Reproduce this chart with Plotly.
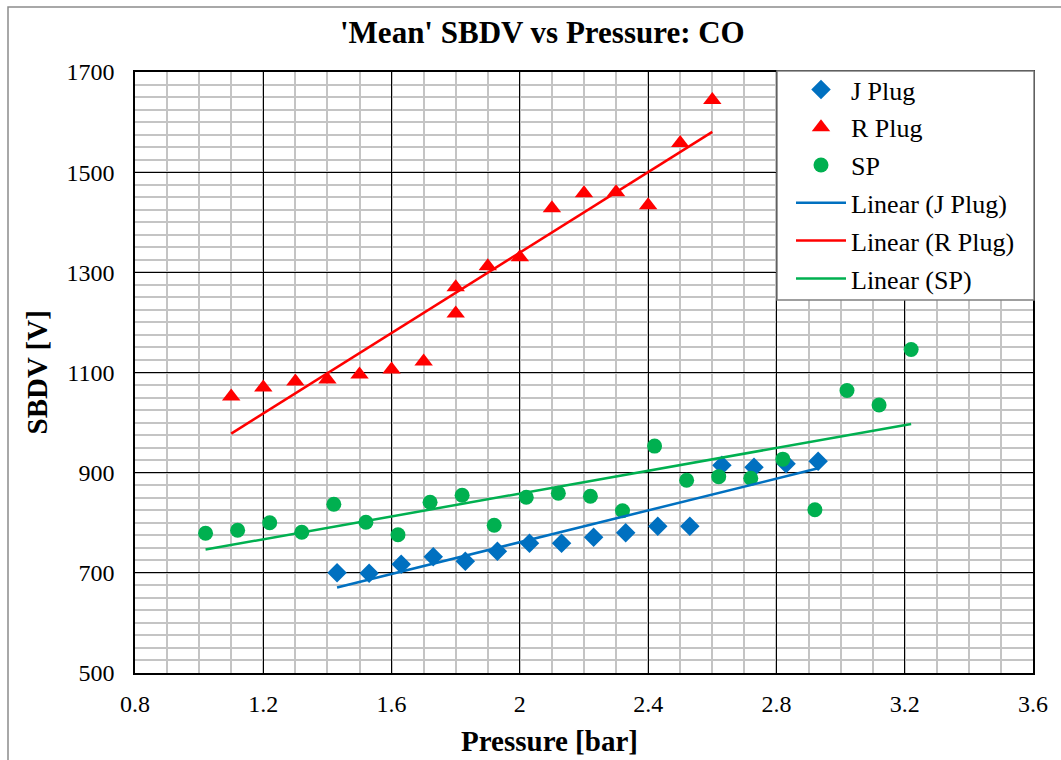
import numpy as np
import plotly.graph_objects as go

# Mean spark breakdown voltage vs pressure for three plug types (CO)
j_pressure = [1.43, 1.53, 1.63, 1.73, 1.83, 1.93, 2.03, 2.13, 2.23, 2.33, 2.43, 2.53, 2.63, 2.73, 2.83, 2.93]
j_sbdv = [700, 699, 717, 732, 723, 743, 759, 759, 771, 780, 793, 793, 915, 911, 918, 923]

r_pressure = [1.1, 1.2, 1.3, 1.4, 1.5, 1.6, 1.7, 1.8, 1.8, 1.9, 2.0, 2.1, 2.2, 2.3, 2.4, 2.5, 2.6]
r_sbdv = [1052, 1070, 1082, 1086, 1096, 1106, 1122, 1270, 1218, 1312, 1330, 1428, 1458, 1460, 1434, 1558, 1644]

sp_pressure = [1.02, 1.12, 1.22, 1.32, 1.42, 1.52, 1.62, 1.72, 1.82, 1.92, 2.02, 2.12, 2.22,
               2.32, 2.42, 2.52, 2.62, 2.72, 2.82, 2.92, 3.02, 3.12, 3.22]
sp_sbdv = [779, 785, 800, 781, 837, 801, 776, 841, 855, 795, 851, 859, 853,
           824, 953, 885, 892, 889, 927, 826, 1064, 1035, 1146]

x_ticks = [0.8, 1.2, 1.6, 2.0, 2.4, 2.8, 3.2, 3.6]
x_tick_labels = ["0.8", "1.2", "1.6", "2", "2.4", "2.8", "3.2", "3.6"]
y_ticks = [500, 700, 900, 1100, 1300, 1500, 1700]
y_tick_labels = ["500", "700", "900", "1100", "1300", "1500", "1700"]

BLUE = "#0070C0"
RED = "#FF0000"
GREEN = "#00B050"
FONT = "'Liberation Serif', 'Times New Roman', serif"

# plot-area pixel frame, used to place boxes given in pixels
PX_L, PX_R, PX_T, PX_B = 135, 1033, 72, 673


def px_x(px):
    return (px - PX_L) / (PX_R - PX_L)


def px_y(py):
    return (PX_B - py) / (PX_B - PX_T)


def linear_fit(x, y):
    """Least-squares line evaluated at the extremes of x."""
    slope, intercept = np.polyfit(x, y, 1)
    xs = np.array([min(x), max(x)])
    return xs, slope * xs + intercept


fig = go.Figure()

fig.add_trace(go.Scatter(x=j_pressure, y=j_sbdv, mode="markers", name="J Plug", legendgroup="a",
                         marker=dict(symbol="diamond", size=15, color=BLUE)))
fig.add_trace(go.Scatter(x=r_pressure, y=r_sbdv, mode="markers", name="R Plug", legendgroup="b",
                         marker=dict(symbol="triangle-up", size=16, color=RED)))
fig.add_trace(go.Scatter(x=sp_pressure, y=sp_sbdv, mode="markers", name="SP", legendgroup="c",
                         marker=dict(symbol="circle", size=15, color=GREEN)))

for grp, name, xv, yv, col in [("d", "Linear (J Plug)", j_pressure, j_sbdv, BLUE),
                               ("e", "Linear (R Plug)", r_pressure, r_sbdv, RED),
                               ("f", "Linear (SP)", sp_pressure, sp_sbdv, GREEN)]:
    fx, fy = linear_fit(xv, yv)
    fig.add_trace(go.Scatter(x=fx, y=fy, mode="lines", name=name, legendgroup=grp,
                             line=dict(color=col, width=2.5)))

axis_common = dict(
    showline=True, linecolor="black", linewidth=1.5, mirror=True,
    showgrid=True, gridcolor="black", gridwidth=1,
    ticks="", zeroline=False,
    tickfont=dict(family=FONT, size=24, color="black"),
)

fig.update_xaxes(range=[0.8, 3.6], tickvals=x_ticks, ticktext=x_tick_labels,
                 ticklabelstandoff=8,
                 minor=dict(dtick=0.1, tick0=0.8, showgrid=True, gridcolor="#C4C4C4", gridwidth=1.5),
                 **axis_common)
fig.update_yaxes(range=[500, 1700], tickvals=y_ticks, ticktext=y_tick_labels,
                 ticklabelstandoff=14,
                 minor=dict(dtick=25, tick0=500, showgrid=True, gridcolor="#C4C4C4", gridwidth=1.5),
                 **axis_common)

fig.update_layout(
    width=1061, height=760,
    margin=dict(l=PX_L, r=1061 - PX_R, t=PX_T, b=760 - PX_B),
    paper_bgcolor="white", plot_bgcolor="white",
    font=dict(family=FONT, color="black"),
    showlegend=True,
    legend=dict(x=px_x(791), y=px_y(66), xanchor="left", yanchor="top",
                bgcolor="rgba(0,0,0,0)", borderwidth=0,
                font=dict(family=FONT, size=26, color="black"),
                itemwidth=50, tracegroupgap=1),
    annotations=[
        dict(text="<b>'Mean' SBDV vs Pressure: CO</b>", xref="paper", yref="paper",
             x=px_x(542), y=1.0, yshift=40, showarrow=False,
             font=dict(family=FONT, size=31, color="black"), xanchor="center", yanchor="middle"),
        dict(text="<b>Pressure [bar]</b>", xref="paper", yref="paper",
             x=px_x(549), y=0, yshift=-68, showarrow=False,
             font=dict(family=FONT, size=29, color="black"), xanchor="center", yanchor="middle"),
        dict(text="<b>SBDV [V]</b>", xref="paper", yref="paper",
             x=0, xshift=-99, y=0.5, showarrow=False, textangle=-90,
             font=dict(family=FONT, size=29, color="black"), xanchor="center", yanchor="middle"),
    ],
    shapes=[
        # outer chart frame
        dict(type="rect", xref="paper", yref="paper",
             x0=px_x(8), x1=px_x(1070), y0=px_y(770), y1=px_y(7),
             line=dict(color="#8C8C8C", width=1.5), layer="below"),
        # legend box
        dict(type="rect", xref="paper", yref="paper",
             x0=px_x(777), x1=px_x(1034), y0=px_y(300), y1=px_y(71),
             fillcolor="white", line=dict(color="#808080", width=1.5), layer="above"),
    ],
)

fig.write_html("out.html")
